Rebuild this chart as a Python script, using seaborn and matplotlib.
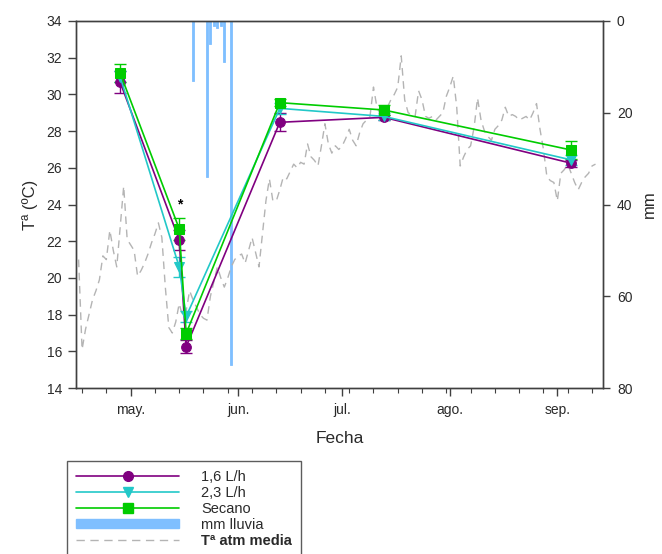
import numpy as np
import pandas as pd
import matplotlib
matplotlib.use("Agg")
import matplotlib.pyplot as plt
from matplotlib.lines import Line2D
from matplotlib.patches import Patch
import seaborn as sns

# ---------------- data ----------------
sample_dates = ["2017-04-28", "2017-05-15", "2017-05-17", "2017-06-13", "2017-07-13", "2017-09-05"]
t_16 = [30.65, 22.07, 16.25, 28.48, 28.75, 26.25]
e_16 = [0.60, 0.55, 0.35, 0.50, 0.15, 0.20]
t_23 = [30.95, 20.60, 17.90, 29.24, 28.80, 26.43]
e_23 = [0.30, 0.55, 0.30, 0.30, 0.20, 0.25]
t_sec = [31.15, 22.68, 16.97, 29.55, 29.15, 26.97]
e_sec = [0.50, 0.60, 0.30, 0.20, 0.25, 0.50]

rain_dates = ["2017-05-19", "2017-05-23", "2017-05-24", "2017-05-25", "2017-05-26", "2017-05-27", "2017-05-28", "2017-05-30"]
rain_mm = [13.0, 34.0, 5.0, 1.0, 1.5, 1.0, 9.0, 75.0]

tmed_start = "2017-04-16"
tmed = [21.0, 16.1, 17.2, 18.0, 18.8, 19.3, 19.9, 21.2, 21.0, 22.6,
        21.5, 20.6, 22.8, 25.0, 22.1, 21.8, 21.5, 20.1, 20.4, 20.8,
        21.3, 21.9, 22.4, 23.0, 22.2, 19.5, 17.3, 17.0, 17.6, 18.6,
        17.9, 18.2, 19.3, 18.8, 18.4, 18.0, 17.8, 17.7, 19.0, 19.8,
        20.6, 20.0, 19.5, 20.0, 20.6, 21.0, 21.2, 21.3, 20.8, 21.5,
        22.2, 21.4, 20.6, 22.4, 24.2, 25.4, 24.2, 24.2, 24.8, 25.5,
        25.4, 25.8, 26.2, 26.0, 26.3, 26.2, 27.3, 26.6, 26.4, 26.1,
        27.2, 28.4, 27.3, 26.8, 27.2, 27.0, 27.2, 27.6, 28.1, 27.5,
        27.2, 27.9, 28.4, 28.6, 28.8, 30.4, 29.3, 28.9, 28.6, 29.3,
        29.7, 30.0, 30.4, 32.1, 29.7, 29.0, 28.9, 28.8, 30.2, 29.7,
        28.8, 28.7, 28.8, 28.6, 28.8, 29.0, 29.9, 30.4, 31.0, 29.3,
        26.1, 26.6, 27.0, 27.2, 28.2, 29.8, 28.6, 28.0, 27.7, 27.5,
        28.1, 28.3, 28.6, 29.3, 28.8, 28.9, 28.8, 28.6, 28.7, 28.8,
        28.6, 29.0, 29.5, 28.1, 27.0, 25.5, 25.3, 25.2, 24.2, 25.7,
        25.9, 26.2, 25.7, 25.2, 24.8, 25.2, 25.5, 25.7, 26.1, 26.2]

month_ticks = ["2017-05-01", "2017-06-01", "2017-07-01", "2017-08-01", "2017-09-01"]
month_labels = ["may.", "jun.", "jul.", "ago.", "sep."]
series_names = ["1,6 L/h", "2,3 L/h", "Secano"]
star_date = "2017-05-15"
star_value = 24.0

# ---------------- styling ----------------
sns.set_theme(style="white")
plt.rcParams["font.family"] = ["Liberation Sans", "DejaVu Sans"]

c_16 = "#800080"
c_23 = "#22c8c8"
c_sec = "#00cc00"
c_rain = "#7fbfff"
c_tmed = "#b4b4b4"
spine_c = "#404040"
txt_c = "#2a2a2a"

fig = plt.figure(figsize=(6.62, 5.54), dpi=100)
ax = fig.add_axes([0.1148, 0.2996, 0.9109 - 0.1148, 0.9621 - 0.2996])
ax2 = ax.twinx()

# rain on secondary axis (inverted)
rd = pd.to_datetime(rain_dates)
ax2.bar(rd, rain_mm, width=0.6, color=c_rain, edgecolor=c_rain, linewidth=0.6, zorder=1)
ax2.set_ylim(80, 0)
ax2.set_yticks([0, 20, 40, 60, 80])

ax.set_zorder(ax2.get_zorder() + 1)
ax.patch.set_visible(False)

# daily temperature
tdates = pd.date_range(tmed_start, periods=len(tmed), freq="D")
df_t = pd.DataFrame({"fecha": tdates, "t": tmed})
sns.lineplot(data=df_t, x="fecha", y="t", ax=ax, color=c_tmed, linewidth=1.0,
             zorder=2, legend=False)
ax.lines[-1].set_dashes((5.5, 4))

sd = pd.to_datetime(sample_dates)
specs = [(t_16, e_16, c_16, "o", 7), (t_23, e_23, c_23, "v", 7.5), (t_sec, e_sec, c_sec, "s", 6.5)]
for vals, errs, col, mk, ms in specs:
    df = pd.DataFrame({"fecha": sd, "v": vals})
    ax.errorbar(sd, vals, yerr=errs, fmt="none", ecolor=col, elinewidth=1.0,
                capsize=4, capthick=1.0, zorder=3)
    sns.lineplot(data=df, x="fecha", y="v", ax=ax, color=col, linewidth=1.2,
                 marker=mk, markersize=ms, markeredgecolor=col, markerfacecolor=col,
                 zorder=4, legend=False)

ax.text(pd.Timestamp(star_date), star_value, "*", ha="center", va="center",
        fontsize=10, fontweight="bold", color="black", zorder=5)

ax.set_ylim(14, 34)
ax.set_yticks(np.arange(14, 35, 2))
ax.set_xlim(pd.Timestamp("2017-04-15 06:00"), pd.Timestamp("2017-09-14 04:00"))
ax.set_xticks(pd.to_datetime(month_ticks))
ax.set_xticklabels(month_labels)
minor = pd.date_range("2017-04-17", "2017-09-14", freq="7D")
ax.set_xticks(minor, minor=True)

ax.set_xlabel("Fecha", fontsize=12.5, labelpad=10, color=txt_c)
ax.set_ylabel("Tª (ºC)", fontsize=12, labelpad=6, color=txt_c)
ax2.set_ylabel("mm", fontsize=12, labelpad=7, color=txt_c)

for a in (ax, ax2):
    for s in a.spines.values():
        s.set_color(spine_c)
        s.set_linewidth(1.0)
ax.tick_params(axis="y", direction="out", length=6, width=1, color=spine_c,
               labelsize=10, labelcolor=txt_c, left=True, pad=4)
ax.tick_params(axis="x", which="major", direction="out", length=6, width=1, color=spine_c,
               labelsize=10, labelcolor=txt_c, bottom=True, pad=5)
ax.tick_params(axis="x", which="minor", direction="out", length=3.5, width=0.8, color=spine_c,
               bottom=True)
ax2.tick_params(axis="y", direction="out", length=5, width=1, color=spine_c,
                labelsize=10, labelcolor=txt_c, right=True, pad=5)
ax.grid(False)
ax2.grid(False)

# legend
handles = [
    Line2D([0], [0], color=c_16, lw=1.2, marker="o", markersize=7, markerfacecolor=c_16, markeredgecolor=c_16),
    Line2D([0], [0], color=c_23, lw=1.2, marker="v", markersize=7.5, markerfacecolor=c_23, markeredgecolor=c_23),
    Line2D([0], [0], color=c_sec, lw=1.2, marker="s", markersize=6.5, markerfacecolor=c_sec, markeredgecolor=c_sec),
    Patch(facecolor=c_rain, edgecolor=c_rain),
    Line2D([0], [0], color=c_tmed, lw=1.0, dashes=(6, 4)),
]
labels = series_names + ["mm lluvia", "Tª atm media"]
leg = fig.legend(handles, labels, loc="upper left",
                 bbox_to_anchor=(67 / 662, 1 - 461 / 554), bbox_transform=fig.transFigure,
                 frameon=True, fancybox=False, edgecolor="#333333", fontsize=10.5,
                 handlelength=7.1, handleheight=0.55, handletextpad=1.5, labelspacing=0.14,
                 borderpad=0.6, borderaxespad=0)
leg.get_frame().set_linewidth(1.0)
for t in leg.get_texts():
    t.set_color(txt_c)
leg.get_texts()[-1].set_fontweight("bold")

fig.savefig("out.png", dpi=100)
